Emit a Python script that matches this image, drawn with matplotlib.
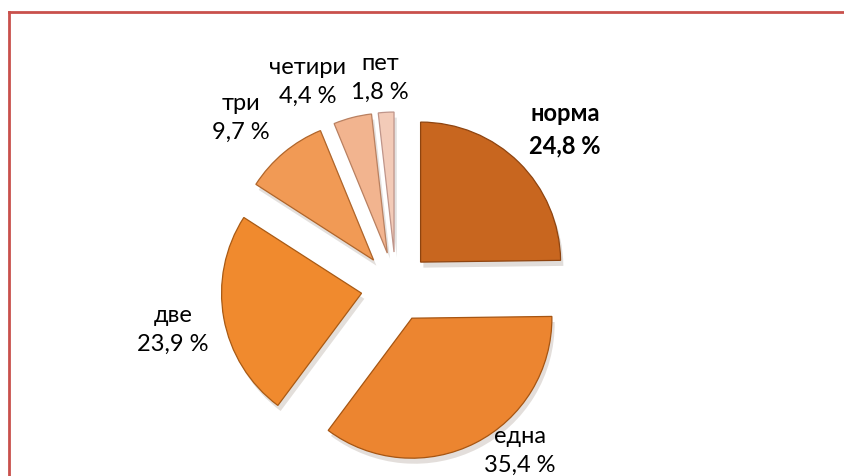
import matplotlib
matplotlib.use("Agg")
import matplotlib.pyplot as plt
from matplotlib.lines import Line2D

# Data
categories = ["норма", "една", "две", "три", "четири", "пет"]
values = [24.8, 35.4, 23.9, 9.7, 4.4, 1.8]
value_labels = ["24,8 %", "35,4 %", "23,9 %", "9,7 %", "4,4 %", "1,8 %"]

colors = ["#C8661F", "#EC8530", "#F08A2E", "#F19A55", "#F2B48F", "#F3CBB8"]
edge_colors = ["#8E4410", "#A65512", "#A95A14", "#B0652A", "#B98060", "#BF958A"]

W, H = 844, 477
fig = plt.figure(figsize=(W / 100, H / 100), dpi=100)
ax = fig.add_axes([0, 0, 1, 1])

center = (396, H - 288)
radius = 140
explode = [35] * len(values)

wedges, _ = ax.pie(values, explode=explode, startangle=90, counterclock=False,
                   colors=colors, radius=radius, center=center,
                   wedgeprops=dict(linewidth=0.9),
                   shadow=dict(ox=2, oy=-4, shade=0.7, alpha=0.15, linewidth=0))
for w, ec in zip(wedges, edge_colors):
    w.set_edgecolor(ec)

ax.set_xlim(0, W)
ax.set_ylim(0, H)
ax.set_aspect("equal")
ax.axis("off")

# label positions (pixel coords, y from top)
label_pos = [(565, 130), (520, 451), (173, 330), (241, 118), (308, 82), (380, 78)]
fam = ["Lato", "DejaVu Sans"]
for i, (cat, vl) in enumerate(zip(categories, value_labels)):
    x, y = label_pos[i]
    ax.text(x, H - y, f"{cat}\n{vl}", ha="center", va="center", fontsize=17,
            family=fam, fontweight="bold" if i == 0 else "normal",
            linespacing=1.5, color="black")

# frame lines (top and left only)
red = "#C9504C"
fig.add_artist(Line2D([9 / W, 9 / W], [0, 1 - 13 / H], transform=fig.transFigure,
                      color=red, lw=2.0))
fig.add_artist(Line2D([9 / W, 1], [1 - 13 / H, 1 - 13 / H], transform=fig.transFigure,
                      color=red, lw=2.0))

fig.savefig("out.png", dpi=100)
